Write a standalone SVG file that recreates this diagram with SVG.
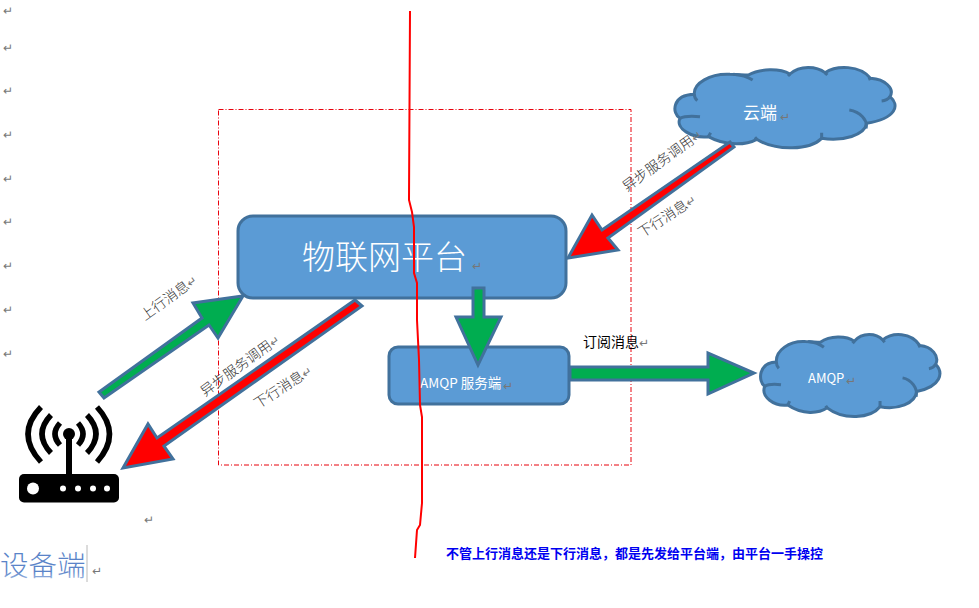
<svg xmlns="http://www.w3.org/2000/svg" width="979" height="608" viewBox="0 0 979 608">
<style>
text{font-family:"Noto Sans CJK SC","Liberation Sans",sans-serif}
.box{fill:#5b9bd5;stroke:#41719c;stroke-width:3}
.ag{fill:#00ad50;stroke:#41719c;stroke-width:3;stroke-linejoin:miter}
.ar{fill:#ff0000;stroke:#41719c;stroke-width:3;stroke-linejoin:miter}
.w{fill:#fff}
.lb{fill:#333;font-size:14px;font-weight:300}
.rt{font-family:"DejaVu Sans",sans-serif;fill:#777;font-size:12px;font-weight:400}
.wave{fill:none;stroke:#000;stroke-width:5.5}
</style>
<defs>
<linearGradient id="fade" x1="0" y1="0" x2="0" y2="1"><stop offset="0" stop-color="#5b83c8"/><stop offset=".7" stop-color="#5b83c8"/><stop offset="1" stop-color="#c9d8f0"/></linearGradient>
<g id="cloud">
<path fill="#5b9bd5" stroke="#41719c" stroke-width="3" vector-effect="non-scaling-stroke" d="M403,133C400,100 450,70 510,73C530,73 550,75 565,75C600,55 660,55 690,72C720,45 770,48 795,68C830,45 900,45 932,85C975,88 1005,115 990,140C1020,165 1010,205 920,220C915,255 850,275 785,265C750,300 650,305 590,268C560,285 500,290 445,260C395,265 345,235 360,205C335,190 335,135 403,133Z"/>
<path fill="none" stroke="#41719c" stroke-width="3" vector-effect="non-scaling-stroke" d="M520,73C545,75 565,82 578,90M690,72L684,78M795,68L802,75M932,85L925,88M990,140C985,147 975,152 965,153M868,180C900,185 925,210 918,235M785,265L785,248M590,268L585,262M445,260L452,248M360,205C375,197 400,198 420,200M403,133C403,140 406,147 412,152"/>
</g>
</defs>
<g id="returns" class="rt">
<text x="3" y="15">↵</text><text x="3" y="52">↵</text><text x="3" y="95">↵</text><text x="3" y="139">↵</text><text x="3" y="183">↵</text><text x="3" y="226">↵</text><text x="3" y="270">↵</text><text x="3" y="314">↵</text><text x="3" y="358">↵</text><text x="144" y="524">↵</text>
</g>
<rect id="boundary" x="218.5" y="109.5" width="412.5" height="355.5" fill="none" stroke="#e8000b" stroke-width="1" stroke-dasharray="5 2 1 2"/>
<g id="platform"><rect class="box" x="238" y="216" width="328" height="82" rx="15"/><text class="w" x="302" y="269" font-size="33" font-weight="300">物联网平台</text><text class="rt" x="472" y="270">↵</text></g>
<g id="amqp-server"><rect class="box" x="389" y="347" width="180" height="57" rx="9"/><text class="w" x="420" y="388" font-size="13.5">AMQP 服务端</text><text class="rt" x="503" y="390">↵</text></g>
<g id="cloud-end"><use href="#cloud" transform="translate(560,50) scale(.3333)"/><text class="w" x="743" y="119" font-size="17">云端</text><text class="rt" x="780" y="121">↵</text></g>
<g id="amqp-cloud"><use href="#cloud" transform="translate(667,316.7) scale(.2714,.34)"/><text class="w" x="808" y="383" font-size="13">AMQP</text><text class="rt" x="846" y="385">↵</text></g>
<g id="device">
<rect x="19" y="474" width="100" height="28.5" rx="5"/>
<rect x="66" y="434" width="6" height="42"/><circle cx="69" cy="434" r="6"/>
<circle cx="33" cy="488.5" r="6" fill="#fff"/><circle cx="63" cy="488.5" r="3" fill="#fff"/><circle cx="78" cy="488.5" r="3" fill="#fff"/><circle cx="93" cy="488.5" r="3" fill="#fff"/><circle cx="107" cy="488.5" r="3" fill="#fff"/>
<path class="wave" d="M60,423Q50,434 60,445M51,415Q33,434 51,453M41,407Q15,434 41,462M78,423Q88,434 78,445M87,415Q105,434 87,453M97,407Q122,434 97,462"/>
</g>
<g id="connectors">
<polygon class="ag" points="99,392 104,398 209,325 218,338 243,296 193,303 202,318"/>
<polygon class="ar" points="355,300 362,306 164,446 173,459 123,468 148,424 157,438"/>
<polygon class="ar" points="730,142 734,147 608,238 618,250 568,258 592,215 602,230"/>
<polygon class="ag" points="473,288 484,288 484,317 501,317 478,365 456,317 473,317"/>
<polygon class="ag" points="570,367 708,367 708,353 754,373 708,394 708,380 570,380"/>
</g>
<g id="labels">
<text class="lb" transform="translate(145,321) rotate(-36)">上行消息<tspan class="rt">↵</tspan></text>
<text class="lb" transform="translate(205,397) rotate(-36)">异步服务调用<tspan class="rt">↵</tspan></text>
<text class="lb" transform="translate(258,409) rotate(-33)" font-size="13">下行消息<tspan class="rt">↵</tspan></text>
<text class="lb" transform="translate(627,192) rotate(-36)">异步服务调用<tspan class="rt">↵</tspan></text>
<text class="lb" transform="translate(642,238) rotate(-33)">下行消息<tspan class="rt">↵</tspan></text>
<text x="583" y="347" font-size="14" fill="#000">订阅消息<tspan class="rt">↵</tspan></text>
<text x="446" y="558" font-size="13" font-weight="700" fill="#0000f0">不管上行消息还是下行消息，都是先发给平台端，由平台一手操控</text>
<text x="0" y="576" font-size="28.5" font-weight="300" fill="url(#fade)">设备端</text>
<path d="M87,545V582" stroke="#b8b8b8"/>
<text class="rt" x="92" y="575">↵</text>
</g>
<path id="divider" fill="none" stroke="#ff0000" stroke-width="2" d="M410,11L409,200L412,212L414,227L414,273L417,283L417,320L418,340L419,360L420,405L422,417L422,503L420,525L417,530L415,558"/>
</svg>
